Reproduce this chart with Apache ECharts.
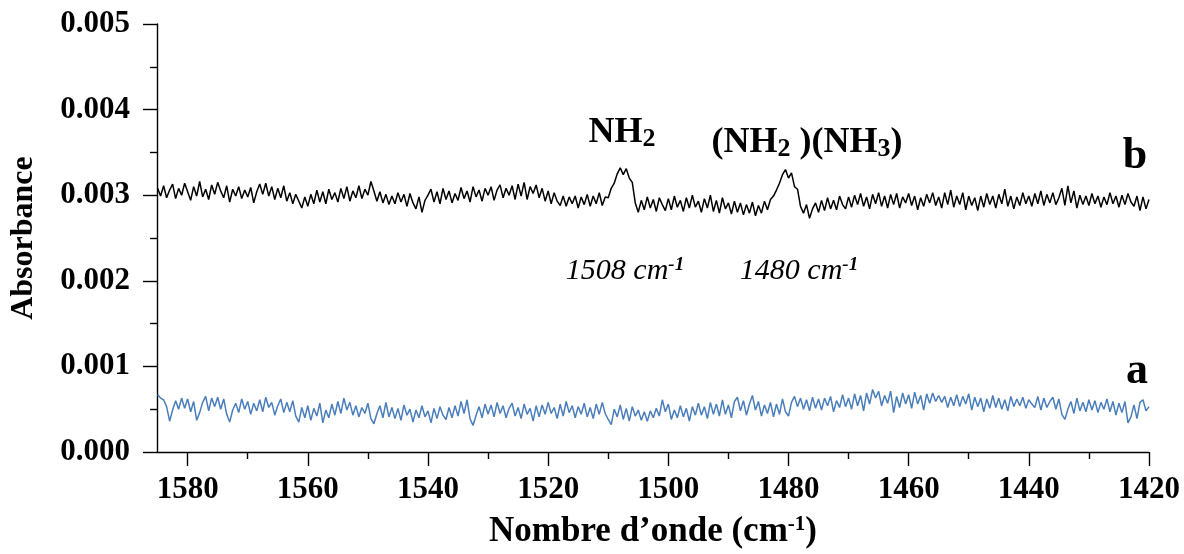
<!DOCTYPE html>
<html>
<head>
<meta charset="utf-8">
<script src="https://cdn.jsdelivr.net/npm/echarts@6/dist/echarts.min.js"></script>
<style>
html,body{margin:0;padding:0;background:#fff;}
#chart{width:1184px;height:554px;}
</style>
</head>
<body>
<div id="chart"></div>
<script>
// ---- data ----
// sampling grid of the spectra (cm-1), from 1585 down to 1420 every 0.5 cm-1
const wnStart = 1585, wnStep = 0.5, wnCount = 331;
const SCALE = 1e-4; // values below are absorbance x 10^4

// spectrum b (black)
const specB = [
30.8,29.9,31.1,29.7,30.6,31.3,29.6,30.8,30.0,31.4,
30.4,29.4,31.0,29.9,31.6,29.8,30.7,29.5,31.2,30.1,
31.5,30.5,29.7,31.1,29.2,30.7,29.9,31.0,29.6,30.6,
29.8,30.9,29.1,30.4,31.3,30.1,31.4,29.9,31.0,29.5,
30.8,29.7,31.1,29.3,30.3,29.0,30.1,29.3,28.5,29.8,
28.7,30.1,29.0,30.6,29.2,30.4,29.0,30.7,29.5,30.3,
29.2,30.8,29.6,31.0,29.3,30.5,29.7,31.1,29.6,30.7,
30.0,31.6,30.5,29.3,30.4,29.1,30.1,28.9,29.9,29.0,
30.3,29.2,30.1,28.7,30.2,29.1,28.4,29.8,28.0,29.4,
30.0,30.7,29.2,30.4,29.0,30.8,29.5,30.5,29.1,30.2,
29.4,30.9,29.6,30.5,29.2,31.0,29.8,30.6,29.3,30.8,
30.0,31.0,29.4,30.6,31.2,29.7,30.8,30.0,31.1,29.5,
31.3,29.9,31.5,29.5,31.0,30.2,31.2,29.7,30.8,29.3,
30.5,29.0,30.3,29.3,28.8,29.9,28.7,29.8,29.0,29.9,
28.5,29.8,28.9,30.1,28.7,29.9,29.0,30.3,28.8,29.8,
29.7,30.8,31.4,32.5,33.2,32.4,33.1,32.0,31.5,29.1,
28.0,29.4,28.3,29.8,28.5,29.5,28.1,29.7,28.9,28.2,
29.6,28.3,29.9,28.6,29.4,28.1,29.7,28.5,30.0,28.6,
29.3,28.0,29.6,28.5,30.0,28.1,29.4,27.9,29.7,28.4,
29.1,27.8,29.3,28.0,29.1,27.7,28.9,27.9,29.2,27.6,
28.8,27.9,29.3,28.3,29.5,29.9,30.6,31.4,32.4,33.0,
32.0,32.6,31.0,30.7,28.7,27.9,28.9,27.3,28.4,29.1,
28.0,29.4,28.2,29.7,28.4,29.4,28.3,29.9,28.9,28.4,
29.8,28.6,30.0,28.9,30.2,28.7,29.8,28.4,30.1,29.0,
30.3,28.7,29.9,28.5,30.1,28.9,30.2,28.5,29.8,29.1,
30.2,28.8,29.9,28.3,29.7,28.7,30.1,29.1,30.3,28.8,
29.8,28.5,30.3,28.9,30.6,28.6,29.9,28.9,30.3,28.3,
29.9,28.8,29.7,28.2,29.9,28.6,30.2,28.9,29.9,28.5,
30.1,29.0,30.7,28.7,29.9,28.4,29.8,28.8,30.3,29.0,
29.9,28.7,30.2,29.0,30.5,28.8,30.1,29.1,30.3,28.9,
29.7,30.8,28.8,31.1,29.1,30.5,28.5,30.0,28.9,29.9,
28.8,30.2,29.0,29.9,28.6,29.8,28.9,30.3,29.0,29.9,
28.6,30.0,28.9,30.2,29.2,28.7,29.9,28.2,29.8,28.4,
29.5
];

// spectrum a (blue)
const specA = [
6.7,6.3,6.1,5.3,3.6,4.9,6.0,5.0,6.3,5.1,
6.2,4.7,5.9,3.7,4.6,5.8,6.5,4.8,6.3,5.3,
6.4,5.0,6.2,4.4,3.5,4.9,5.7,4.6,6.2,5.0,
5.9,4.4,5.7,4.8,6.1,4.7,6.4,5.2,5.8,4.3,
5.4,6.2,4.6,5.8,4.7,6.0,4.2,3.5,5.2,4.0,
5.4,3.7,5.1,4.2,5.7,3.4,4.9,4.0,5.6,4.3,
5.9,4.5,6.3,4.9,5.8,4.3,5.4,4.1,5.2,4.5,
5.7,3.9,3.3,4.5,5.4,4.0,5.8,4.1,5.2,3.9,
5.1,3.7,5.5,4.3,5.0,3.5,4.9,4.0,5.4,4.1,
4.8,3.4,5.1,3.9,5.3,4.3,3.8,5.2,4.0,5.4,
4.2,5.9,4.5,6.1,3.9,3.1,4.3,5.3,4.0,5.6,
4.4,5.5,4.1,5.8,4.5,5.4,4.0,5.1,5.7,4.2,
5.2,3.9,5.6,4.4,5.1,3.6,5.4,4.1,5.5,4.4,
5.8,4.5,5.2,3.9,5.6,4.2,5.9,4.6,5.4,4.0,
5.3,4.4,5.7,4.1,5.2,3.9,5.6,4.4,5.8,4.5,
3.8,3.2,5.0,4.1,5.5,3.8,5.1,3.6,5.3,4.2,
4.9,3.7,4.7,3.6,4.8,4.0,5.1,4.2,6.1,4.7,
5.6,3.8,4.9,4.0,5.4,4.1,5.1,3.6,5.3,4.3,
5.7,4.3,5.3,3.9,5.8,4.4,5.6,4.2,6.1,4.4,
5.5,4.0,5.9,6.4,4.8,6.0,4.3,5.6,6.6,4.9,
5.9,4.2,5.5,4.5,5.8,4.1,5.6,4.4,6.2,4.7,
4.2,5.8,6.5,5.3,6.3,5.0,6.1,4.8,6.4,5.1,
6.2,4.9,6.3,5.4,6.5,4.7,6.0,5.2,6.7,5.3,
6.3,5.0,6.8,5.4,6.6,4.8,6.9,5.6,7.3,6.3,
7.1,5.4,6.6,5.7,7.1,4.6,6.5,5.2,6.9,5.6,
6.7,5.1,7.0,5.6,6.6,4.9,6.8,5.7,6.9,5.9,
6.6,5.8,6.5,5.2,6.4,5.4,6.7,5.3,6.5,5.6,
6.8,4.9,6.4,5.3,6.3,4.7,6.2,5.1,6.6,5.2,
6.3,5.0,6.1,4.8,6.5,5.3,6.2,5.4,6.4,5.1,
6.1,5.6,5.2,6.5,4.9,6.3,5.2,5.9,6.4,5.0,
6.2,4.4,3.8,5.0,5.9,4.5,6.3,4.8,5.8,4.7,
6.1,4.9,6.0,4.6,5.8,5.0,6.2,4.7,5.9,4.3,
5.7,4.6,5.9,3.4,4.1,5.5,3.9,5.8,6.1,4.8,
5.3
];

const xMajorTicks = [1420,1440,1460,1480,1500,1520,1540,1560,1580];
const xMinorTicks = [1430,1450,1470,1490,1510,1530,1550,1570];
const yTickLabels = ['0.000','0.001','0.002','0.003','0.004','0.005'];
const xRange = [1420, 1585.1];
const yRange = [0, 0.005];

const seriesLabels = ['a','b'];
const peakPositions = ['1508','1480'];

// ---- chart ----
const wn = [];
for (let i = 0; i < wnCount; i++) wn.push(wnStart - i * wnStep);
const toData = arr => arr.map((v, i) => [wn[i], v * SCALE]);

const FONT = '"Liberation Serif", "Times New Roman", serif';
const chart = echarts.init(document.getElementById('chart'), null, {renderer:'canvas'});

const axisLineStyle = {color:'#000', width:1.4};
const subRich = (size, lh) => ({fontFamily:FONT, fontWeight:'bold', fontSize:size, fill:'#000', verticalAlign:'bottom', lineHeight:lh});

chart.setOption({
  animation:false,
  backgroundColor:'#fff',
  grid:{left:155, right:35, top:24, bottom:100, containLabel:false},
  xAxis:[{
    type:'value', min:xRange[0], max:xRange[1], interval:20, inverse:true,
    position:'bottom',
    axisLine:{show:true, onZero:false, lineStyle:axisLineStyle},
    axisTick:{show:true, length:14, customValues:xMajorTicks, lineStyle:axisLineStyle},
    axisLabel:{customValues:xMajorTicks, fontFamily:FONT, fontWeight:'bold', fontSize:31, color:'#000', margin:22,
      formatter:(v) => String(v)},
    splitLine:{show:false},
    name:'Nombre d\u2019onde (cm{sup|-1})',
    nameLocation:'middle', nameGap:62,
    nameTextStyle:{fontFamily:FONT, fontWeight:'bold', fontSize:35, color:'#000',
      rich:{sup:{fontFamily:FONT, fontWeight:'bold', fontSize:21, color:'#000', verticalAlign:'top', lineHeight:35}}}
  },{
    type:'value', min:xRange[0], max:xRange[1], interval:20, inverse:true,
    position:'bottom',
    axisLine:{show:false, onZero:false},
    axisTick:{show:true, length:7, customValues:xMinorTicks, lineStyle:axisLineStyle},
    axisLabel:{show:false},
    splitLine:{show:false}
  }],
  yAxis:{
    type:'value', min:yRange[0], max:yRange[1], interval:0.001,
    axisLine:{show:true, onZero:false, lineStyle:axisLineStyle},
    axisTick:{show:true, length:14, lineStyle:axisLineStyle},
    minorTick:{show:true, splitNumber:2, length:7, lineStyle:axisLineStyle},
    axisLabel:{fontFamily:FONT, fontWeight:'bold', fontSize:31, color:'#000', margin:27,
      formatter:(v) => yTickLabels[Math.round(v / 0.001)]},
    splitLine:{show:false},
    minorSplitLine:{show:false},
    name:'Absorbance', nameLocation:'middle', nameGap:117,
    nameTextStyle:{fontFamily:FONT, fontWeight:'bold', fontSize:32, color:'#000'}
  },
  series:[{
    name:seriesLabels[1], type:'line', xAxisIndex:0, showSymbol:false, symbol:'none',
    data:toData(specB), lineStyle:{color:'#000', width:1.5}, silent:true
  },{
    name:seriesLabels[0], type:'line', xAxisIndex:0, showSymbol:false, symbol:'none',
    data:toData(specA), lineStyle:{color:'#4a7ebb', width:1.5}, silent:true
  }],
  graphic:[
    {type:'text', x:622, y:133, style:{
      text:'{m|NH}{s|2}', align:'center', verticalAlign:'middle',
      rich:{m:{fontFamily:FONT, fontWeight:'bold', fontSize:36, fill:'#000', lineHeight:38}, s:subRich(26, 24)}}},
    {type:'text', x:807, y:143, style:{
      text:'{m|(NH}{s|2}{m| )(NH}{s|3}{m|)}', align:'center', verticalAlign:'middle',
      rich:{m:{fontFamily:FONT, fontWeight:'bold', fontSize:36, fill:'#000', lineHeight:38}, s:subRich(26, 24)}}},
    {type:'text', x:1135, y:157, style:{text:seriesLabels[1], align:'center', verticalAlign:'middle',
      fontFamily:FONT, fontWeight:'bold', fontSize:44, fill:'#000'}},
    {type:'text', x:1137, y:372, style:{text:seriesLabels[0], align:'center', verticalAlign:'middle',
      fontFamily:FONT, fontWeight:'bold', fontSize:44, fill:'#000'}},
    {type:'text', x:625, y:271, style:{
      text:'{m|' + peakPositions[0] + ' cm}{s|-1}', align:'center', verticalAlign:'middle',
      rich:{m:{fontFamily:FONT, fontStyle:'italic', fontSize:30, fill:'#000', lineHeight:30},
            s:{fontFamily:FONT, fontStyle:'italic', fontWeight:'bold', fontSize:19, fill:'#000', verticalAlign:'top', lineHeight:30}}}},
    {type:'text', x:799, y:271, style:{
      text:'{m|' + peakPositions[1] + ' cm}{s|-1}', align:'center', verticalAlign:'middle',
      rich:{m:{fontFamily:FONT, fontStyle:'italic', fontSize:30, fill:'#000', lineHeight:30},
            s:{fontFamily:FONT, fontStyle:'italic', fontWeight:'bold', fontSize:19, fill:'#000', verticalAlign:'top', lineHeight:30}}}}
  ]
});
</script>
</body>
</html>
